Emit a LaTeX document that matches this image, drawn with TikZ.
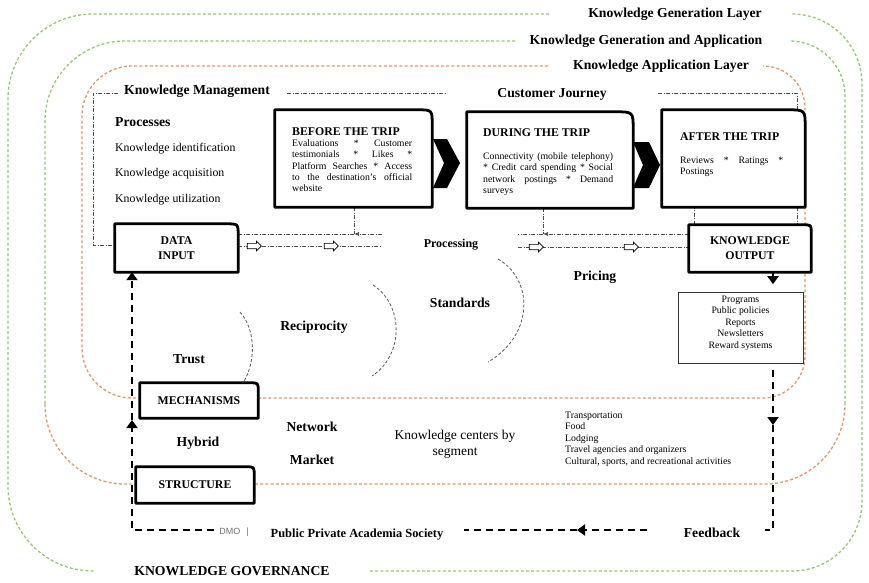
\documentclass[tikz,border=0pt]{standalone}
\usepackage{fontspec}
\setmainfont{Liberation Serif}
\setsansfont{Liberation Sans}
\usetikzlibrary{arrows.meta, shapes.arrows}

\definecolor{layergreen}{RGB}{150,200,110}
\definecolor{layerorange}{RGB}{232,150,105}

\newcommand{\lblfont}{\fontsize{13.7}{16}\selectfont\bfseries}
\newcommand{\boxfont}{\fontsize{11.8}{15}\selectfont\bfseries}
\newcommand{\bodyfont}{\fontsize{9.8}{11.3}\selectfont}
\newcommand{\listfont}{\fontsize{9.8}{11.6}\selectfont}
\newcommand{\kmfont}{\fontsize{11.8}{14}\selectfont}

% box with a rounded top right corner
\newcommand{\cornerframe}[2]{%
  \draw[boxline] (#1.south west) -- (#1.north west) -- ([xshift=-#2]#1.north east)
    .. controls (#1.north east) .. ([yshift=-#2]#1.north east) -- (#1.south east) -- cycle;}

\begin{document}
\begin{tikzpicture}[x=1pt, y=-1pt,
    greenloop/.style={draw=layergreen, line width=1.3pt, dash pattern=on 3pt off 2.2pt},
    orangeloop/.style={draw=layerorange, line width=1.3pt, dash pattern=on 3pt off 2.2pt},
    kmline/.style={draw=black!70, line width=0.7pt, dash pattern=on 4pt off 1.5pt on 1pt off 1.5pt},
    fbline/.style={line width=2.5pt, dash pattern=on 7pt off 5pt},
    fbhead/.style={-{Triangle[length=8pt, width=11pt]}},
    boxline/.style={line width=2.8pt, line join=round},
    tripbox/.style={fill=white, inner sep=0pt},
    boxtag/.style={font=\boxfont, align=center},
    heading/.style={font=\boxfont, anchor=west, inner sep=0pt},
    tripbody/.style={font=\bodyfont, anchor=north west, inner sep=0pt, align=justify},
    bigtag/.style={font=\lblfont, inner sep=0pt},
    plaintag/.style={font=\kmfont, anchor=west, inner sep=0pt},
    arcline/.style={draw=black!65, line width=0.8pt, densely dashed},
    openarrow/.style={single arrow, draw, fill=white, line width=0.7pt, minimum height=14pt,
        inner sep=2.3pt, single arrow head extend=2.2pt}
]

    \useasboundingbox (0,0) rectangle (869,582);
    \fill[white] (0,0) rectangle (869,582);

    % Layers
    \draw[greenloop, rounded corners=85pt] (549,14) -- (8,14) -- (8,571) -- (95,571);
    \draw[greenloop, rounded corners=70pt] (370,571) -- (862,571) -- (862,14) -- (792,14);
    \draw[greenloop, rounded corners=80pt] (515,41) -- (45,41) -- (45,404);
    \draw[orangeloop, rounded corners=80pt] (45,404) -- (45,484) -- (136,484);
    \draw[orangeloop, rounded corners=80pt] (255,484) -- (845,484) -- (845,404);
    \draw[greenloop, rounded corners=55pt] (845,404) -- (845,41) -- (790,41);
    \draw[orangeloop, rounded corners=50pt] (548,66) -- (82,66) -- (82,398) -- (140,398);
    \draw[orangeloop, rounded corners=42pt] (258,398) -- (805,398) -- (805,66) -- (763,66);

    % Boxes
    \node[tripbox, minimum width=157pt, minimum height=97pt] (before) at (353.5,158.5) {};
    \node[tripbox, minimum width=166pt, minimum height=96pt] (during) at (550,160) {};
    \node[tripbox, minimum width=143pt, minimum height=97pt] (after) at (733.5,158.5) {};
    \node[tripbox, boxtag, minimum width=123pt, minimum height=48pt] (datain) at (176.5,248) {DATA\\INPUT};
    \node[tripbox, boxtag, minimum width=122pt, minimum height=47pt] (kout) at (750,248.5) {KNOWLEDGE\\OUTPUT};
    \node[tripbox, boxtag, minimum width=118pt, minimum height=35pt] (mech) at (199,400.5) {MECHANISMS};
    \node[tripbox, boxtag, minimum width=118pt, minimum height=36pt] (struct) at (195,485) {STRUCTURE};
    \node[draw=black!80, line width=1pt, fill=white, minimum width=125pt, minimum height=71pt, inner sep=0pt] (prog) at (740.5,327.5) {};

    % Knowledge management frame
    \coordinate (kmcorner) at (93,93);
    \coordinate (kml) at (93,245);
    \coordinate (kmx) at (797,93);
    \draw[kmline] (118,93) -- (kmcorner) -- (kml) -- (datain.west |- kml);
    \draw[kmline] (287,93) -- (447,93);
    \draw[kmline] (658,93) -- (kmx) -- (after.north -| kmx);
    \draw[kmline] (after.south -| kmx) -- (kout.north -| kmx);
    \draw[kmline] ([xshift=6pt]kout.north west) -- ([xshift=6pt]kout.north west |- after.south);

    % Processing lines
    \coordinate (upL) at (382,234);
    \coordinate (junL) at (354,234);
    \coordinate (lowL) at (382,246);
    \coordinate (upR) at (518,234);
    \coordinate (junR) at (543,234);
    \coordinate (lowR) at (518,247);
    \draw[kmline, -{Latex[length=5pt, width=4pt]}] (upL) -- (junL);
    \draw[kmline] (junL) -- (datain.east |- junL);
    \draw[kmline] (before.south -| junL) -- (junL);
    \draw[kmline] (datain.east |- lowL) -- (lowL);
    \draw[kmline, -{Latex[length=5pt, width=4pt]}] (kout.west |- junR) -- (junR);
    \draw[kmline] (junR) -- (upR);
    \draw[kmline] (during.south -| junR) -- (junR);
    \draw[kmline] (lowR) -- (kout.west |- lowR);
    \node[openarrow] (oa1) at (253,246) {};
    \node[openarrow] (oa2) at (330,246) {};
    \node[openarrow] (oa3) at (535,247) {};
    \node[openarrow] (oa4) at (630,247) {};

    % Frames and chevrons
    \cornerframe{before}{15pt}
    \cornerframe{during}{18pt}
    \cornerframe{after}{18pt}
    \cornerframe{datain}{12pt}
    \cornerframe{kout}{8pt}
    \cornerframe{mech}{8pt}
    \cornerframe{struct}{8pt}
    \fill (433,139) -- (447,139) -- (460,163) -- (447,188) -- (433,188) -- (444,163) -- cycle;
    \fill (633,142) -- (649,142) -- (660,165) -- (649,188) -- (633,188) -- (643,165) -- cycle;

    % Trip texts
    \node[heading] (beforehead) at (292,132) {BEFORE THE TRIP};
    \node[tripbody, text width=120pt] (beforebody) at (292,139.5) {Evaluations * Customer\linebreak testimonials * Likes *\linebreak Platform Searches * Access\linebreak to the destination's official\linebreak website};
    \node[heading] (duringhead) at (483,133) {DURING THE TRIP};
    \node[tripbody, text width=130pt] (duringbody) at (483,152.5) {Connectivity (mobile telephony)\linebreak * Credit card spending * Social\linebreak network postings * Demand\linebreak surveys};
    \node[heading] (afterhead) at (680,137) {AFTER THE TRIP};
    \node[tripbody, text width=103pt] (afterbody) at (680,156.5) {Reviews * Ratings *\linebreak Postings};
    \node[font=\fontsize{9.8}{11.5}\selectfont, align=center, inner sep=0pt] (progtxt) at (740.5,323) {Programs\\Public policies\\Reports\\Newsletters\\Reward systems};

    % Arcs
    \draw[arcline] (240,312) .. controls (256,330) and (256,362) .. (243,383);
    \draw[arcline] (373,285) .. controls (404,305) and (404,355) .. (372,376);
    \draw[arcline] (498,259) .. controls (534,280) and (534,335) .. (488,362);

    % Labels
    \node[bigtag] (gentag) at (675,14) {Knowledge Generation Layer};
    \node[bigtag] (genapptag) at (646,41) {Knowledge Generation and Application};
    \node[bigtag] (apptag) at (661,66) {Knowledge Application Layer};
    \node[bigtag] (kmtag) at (197,91) {Knowledge Management};
    \node[bigtag] (cjtag) at (552,94) {Customer Journey};
    \node[bigtag, anchor=west] (proc) at (115,122) {Processes};
    \node[plaintag] (kid) at (115,149) {Knowledge identification};
    \node[plaintag] (kacq) at (115,174) {Knowledge acquisition};
    \node[plaintag] (kuse) at (115,200) {Knowledge utilization};
    \node[bigtag, font=\fontsize{12}{14}\selectfont\bfseries] (processing) at (451,245) {Processing};
    \node[bigtag] (pricing) at (595,277) {Pricing};
    \node[bigtag] (standards) at (460,303) {Standards};
    \node[bigtag] (recip) at (314,327) {Reciprocity};
    \node[bigtag] (trust) at (189,359) {Trust};
    \node[bigtag] (network) at (312,427) {Network};
    \node[bigtag] (hybrid) at (198,443) {Hybrid};
    \node[bigtag] (market) at (312,460) {Market};
    \node[font=\fontsize{13.5}{16}\selectfont, align=center, inner sep=0pt] (centers) at (455,444) {Knowledge centers by\\segment};
    \node[font=\listfont, align=left, anchor=west, inner sep=0pt] (segments) at (565,439) {Transportation\\Food\\Lodging\\Travel agencies and organizers\\Cultural, sports, and recreational activities};
    \node[font=\sffamily\fontsize{9}{10}\selectfont, text=black!55, inner sep=0pt] (dmo) at (234,532) {DMO\hspace{6pt}|};
    \node[bigtag, font=\fontsize{12.4}{14}\selectfont\bfseries] (actors) at (357,535) {Public Private Academia Society};
    \node[bigtag] (feedback) at (712,533) {Feedback};
    \node[bigtag] (gov) at (232,571) {KNOWLEDGE GOVERNANCE};

    % Feedback loop
    \coordinate (fbbl) at (132,530);
    \coordinate (fbup) at (132,420);
    \coordinate (fbdmo) at (214,530);
    \coordinate (fbmid) at (464,530);
    \coordinate (fbtip) at (577,530);
    \coordinate (fbfeed) at (647,530);
    \coordinate (fbend) at (765,530);
    \coordinate (fbbr) at (773,530);
    \coordinate (fbdown) at (773,425);
    \coordinate (fbtop) at (773,370);
    \draw[fbline, fbhead] (fbdmo) -- (fbbl) -- (fbup);
    \draw[fbline, fbhead] (fbup) -- (datain.south -| fbbl);
    \draw[fbline, fbhead] (fbfeed) -- (fbtip);
    \draw[fbline] (fbtip) -- (fbmid);
    \draw[fbline, fbhead] (fbtop) -- (fbdown);
    \draw[fbline] (fbdown) -- (fbbr) -- (fbend);
    \draw[line width=2.6pt, fbhead] (kout.south -| fbtop) -- ++(0,12);

\end{tikzpicture}
\end{document}
